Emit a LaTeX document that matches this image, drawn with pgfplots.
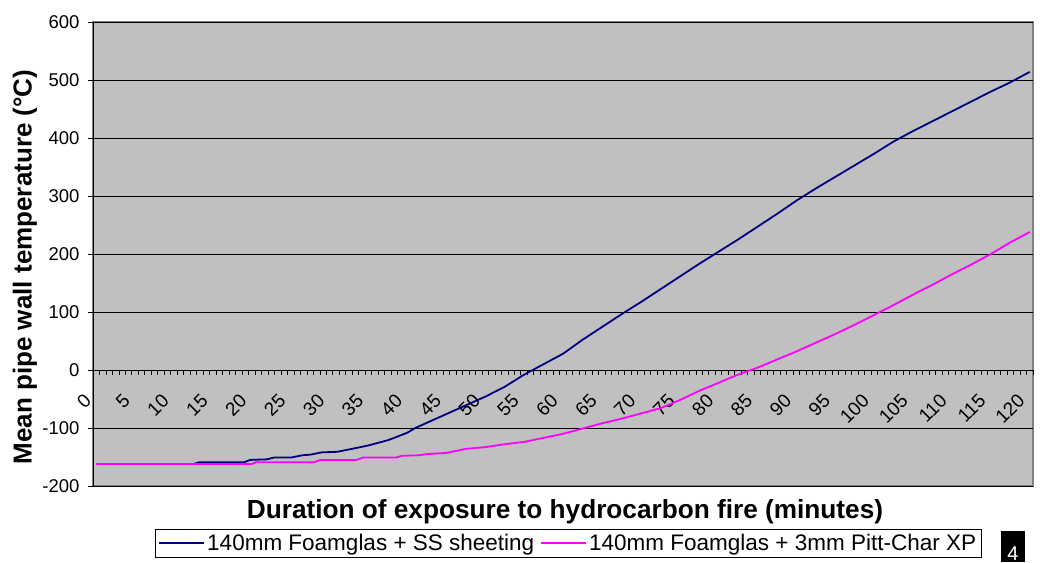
\documentclass[border=0pt]{standalone}
\usepackage{fontspec}
\setmainfont{Liberation Sans}
\usepackage{pgfplots}
\usepackage{pgfplotstable}
\pgfplotsset{compat=1.18}
\definecolor{bgray}{RGB}{192,192,192}
\definecolor{borderGray}{RGB}{128,128,128}
\definecolor{navyblue}{RGB}{0,0,128}
\definecolor{magentaline}{RGB}{255,0,255}
\pgfplotstableread{
t v
0 -162
12.5 -162
13.3 -159
19 -159
19.8 -155
22 -154
22.8 -151
25 -151
26.5 -147
27.5 -146
29 -142
31 -141
32.5 -137
35 -130
37.5 -121
38.5 -116
40 -108
41 -100
42.5 -91
45 -76
47.5 -61
50 -46
52.5 -29
55 -8
57.5 10
60 28
62.5 52
65 74
67.5 96
70 117
72.5 139
75 161
77.5 183
80 204
82.5 225
85 247
87.5 269
90 292
92.5 313
95 333
97.5 353
100 373
102.5 394
105 412
107.5 429
110 446
112.5 463
115 480
117.5 496
120 514
}\seriesA
\pgfplotstableread{
t v
0 -162
20 -162
20.5 -159
28 -159
28.8 -155
33.5 -155
34.3 -151
38.5 -151
39.3 -148
41.5 -147
42.5 -145
45 -143
47.5 -136
50 -133
52.5 -128
55 -124
57.5 -117
60 -110
62.5 -101
65 -92
67.5 -84
70 -75
72.5 -66
75 -52
77.5 -36
80 -22
82.5 -8
85 4
87.5 18
90 32
92.5 47
95 62
97.5 78
100 95
102.5 112
105 130
107.5 147
110 165
112.5 182
115 200
117.5 220
120 238
}\seriesB
\begin{document}
\begin{tikzpicture}[x=1pt,y=1pt]
\useasboundingbox (0,0) rectangle (1040,562);
\begin{axis}[
  at={(93pt,76pt)}, anchor=south west,
  width=940pt, height=464pt, scale only axis,
  xmin=-0.416667, xmax=120.416667,
  ymin=-200, ymax=600,
  axis x line*=middle, axis y line*=left,
  x axis line style={-, black, line width=1pt},
  y axis line style={-, black, line width=1pt},
  axis background/.style={fill=bgray, draw=borderGray, line width=1.5pt},
  xtick={-0.416667,0.416667,...,120.5}, xticklabels={},
  extra x ticks={0,5,...,120},
  extra x tick labels={0,5,10,15,20,25,30,35,40,45,50,55,60,65,70,75,80,85,90,95,100,105,110,115,120},
  extra x tick style={major tick length=0pt, xticklabel style={font=\fontsize{19}{19}\selectfont}},
  tick align=outside,
  major tick length=5pt,
  tick style={black, line width=0.8pt},
  tick label style={font=\fontsize{18.5}{18.5}\selectfont},
  xticklabel style={xshift=-6pt, yshift=-25pt, rotate=45, anchor=east},
  yticklabel style={xshift=-5pt},
  ytick={-200,-100,...,600},
  ymajorgrids, major grid style={black, line width=1pt},
  /pgf/number format/assume math mode=true,
  legend style={at={(0.066,-0.0927)}, anchor=north west, draw=black, line width=0.8pt,
    font=\fontsize{22.5}{22.5}\selectfont, fill=white, inner sep=3pt,
    /tikz/every even column/.append style={column sep=4pt}},
  legend columns=2,
  legend image code/.code={\draw[#1] (0pt,0pt) -- (45pt,0pt);},
]
\addplot[navyblue, line width=1.8pt] table[x=t,y=v] {\seriesA};
\addlegendentry{140mm Foamglas + SS sheeting}
\addplot[magentaline, line width=1.8pt] table[x=t,y=v] {\seriesB};
\addlegendentry{140mm Foamglas + 3mm Pitt-Char XP}
\end{axis}
\node[font=\bfseries\fontsize{26.2}{26.2}\selectfont] at (565,50) {Duration of exposure to hydrocarbon fire (minutes)};
\node[rotate=90, font=\bfseries\fontsize{26}{26}\selectfont] at (25,295) {Mean pipe wall temperature (°C)};
\fill[black] (1001,0) rectangle (1025,31);
\node[white, font=\fontsize{20}{20}\selectfont, anchor=south] at (1013,-2) {4};
\end{tikzpicture}
\end{document}
